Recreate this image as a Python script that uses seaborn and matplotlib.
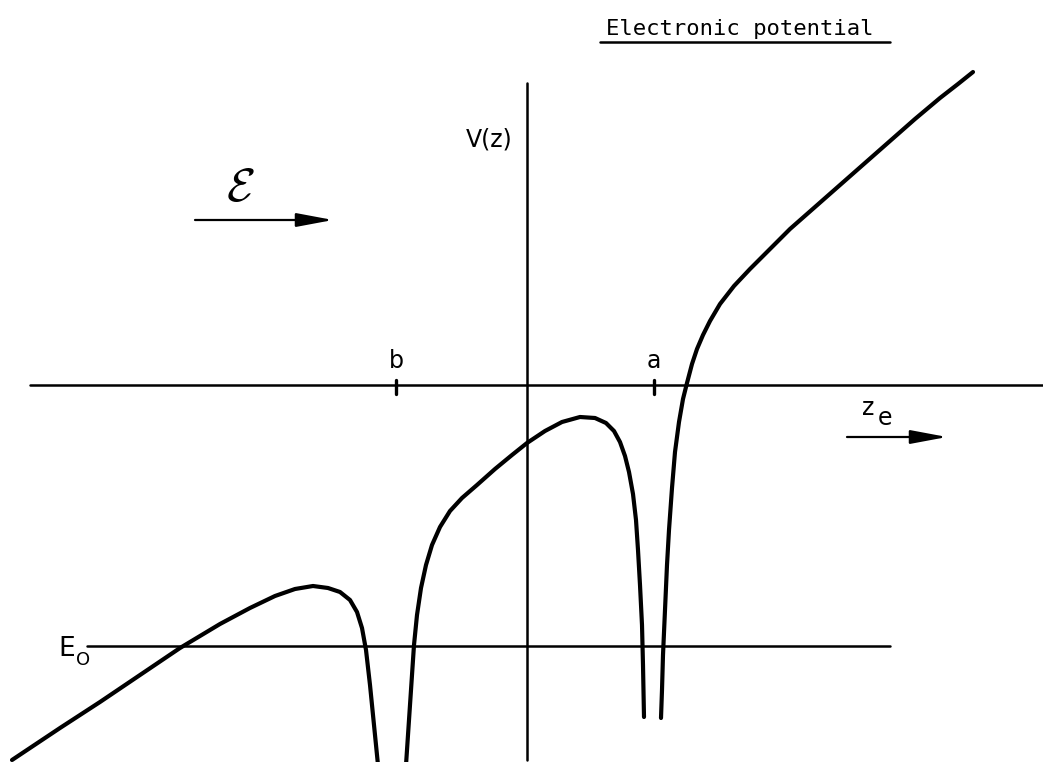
import pandas as pd
import matplotlib
import matplotlib.pyplot as plt
import seaborn as sns

matplotlib.use("Agg")

# ── Data (z along the field, V(z) potential) ───────────────────────────────
# left branch: field slope, barrier, then the well at b
seg_left_z = [-5.15, -4.67, -4.27, -3.87, -3.47, -3.07, -2.77, -2.52, -2.32,
              -2.14, -1.99, -1.87, -1.77, -1.70, -1.65, -1.61, -1.57, -1.54,
              -1.51, -1.49]
seg_left_v = [-3.75, -3.43, -3.17, -2.90, -2.63, -2.39, -2.23, -2.11, -2.04,
              -2.01, -2.03, -2.07, -2.15, -2.27, -2.43, -2.65, -3.00, -3.30,
              -3.60, -3.80]

# middle branch: out of the b well, over the barrier, into the a well
seg_mid_z = [-1.21, -1.19, -1.17, -1.15, -1.13, -1.10, -1.06, -1.01, -0.95,
             -0.87, -0.77, -0.65, -0.50, -0.32, -0.15, 0.00, 0.18, 0.35,
             0.53, 0.68, 0.79, 0.87, 0.93, 0.98, 1.02, 1.06, 1.09, 1.11,
             1.13, 1.15, 1.16, 1.17]
seg_mid_v = [-3.80, -3.50, -3.20, -2.90, -2.60, -2.30, -2.03, -1.80, -1.60,
             -1.42, -1.26, -1.13, -1.00, -0.84, -0.70, -0.58, -0.46, -0.37,
             -0.32, -0.33, -0.38, -0.46, -0.57, -0.71, -0.87, -1.09, -1.35,
             -1.65, -2.00, -2.40, -2.80, -3.32]

# right branch: out of the a well and up the applied-field slope
seg_right_z = [1.34, 1.35, 1.36, 1.38, 1.40, 1.42, 1.45, 1.48, 1.52, 1.56,
               1.60, 1.65, 1.70, 1.76, 1.83, 1.93, 2.07, 2.23, 2.43, 2.63,
               2.88, 3.13, 3.38, 3.63, 3.88, 4.13, 4.31, 4.46]
seg_right_v = [-3.33, -3.05, -2.70, -2.25, -1.80, -1.45, -1.03, -0.67, -0.37,
               -0.14, 0.02, 0.21, 0.36, 0.50, 0.64, 0.81, 0.99, 1.16, 1.36,
               1.56, 1.78, 2.00, 2.22, 2.44, 2.66, 2.87, 3.01, 3.13]

E0_LEVEL = -2.61
Z_B, Z_A = -1.31, 1.27

segments = {"left": (seg_left_z, seg_left_v),
            "mid": (seg_mid_z, seg_mid_v),
            "right": (seg_right_z, seg_right_v)}

rows = []
for name, (zs, vs) in segments.items():
    for z, v in zip(zs, vs):
        rows.append({"segment": name, "z": z, "V": v})
df = pd.DataFrame(rows)

# ── Figure ──────────────────────────────────────────────────────────────────
sns.set_theme(style="white")
plt.rcParams["font.family"] = ["DejaVu Sans"]
plt.rcParams["mathtext.fontset"] = "cm"

fig = plt.figure(figsize=(10.43, 7.62), dpi=100)
ax = fig.add_axes([0, 0, 1, 1])
ax.set_xlim(-5.27, 5.16)
ax.set_ylim(-3.77, 3.85)
ax.axis("off")

# axes of the sketch
ax.plot([-4.97, 5.16], [0, 0], color="black", lw=1.8)
ax.plot([0, 0], [-3.75, 3.02], color="black", lw=1.8)
ax.plot([-4.40, 3.63], [E0_LEVEL, E0_LEVEL], color="black", lw=1.8)

# tick marks at b and a
for zt in (Z_B, Z_A):
    ax.plot([zt, zt], [0.05, -0.09], color="black", lw=2.4)

sns.lineplot(data=df, x="z", y="V", units="segment", estimator=None,
             sort=False, color="black", lw=3.0, ax=ax, legend=False)
for line in ax.lines:
    line.set_solid_capstyle("round")
    line.set_solid_joinstyle("round")

txt = dict(color="black")
ax.text(Z_B, 0.12, "b", ha="center", va="bottom", fontsize=17, **txt)
ax.text(Z_A, 0.12, "a", ha="center", va="bottom", fontsize=17, **txt)
ax.text(-0.14, 2.45, "V(z)", ha="right", va="center", fontsize=17, **txt)
ax.text(-4.69, -2.64, "E", ha="left", va="center", fontsize=19, **txt)
ax.text(-4.51, -2.75, "O", ha="left", va="center", fontsize=13, **txt)
ax.text(3.35, -0.30, "z", ha="left", va="baseline", fontsize=17, **txt)
ax.text(3.51, -0.40, "e", ha="left", va="baseline", fontsize=17, **txt)

# title with underline (lettering-guide look: monospaced)
ax.text(3.46, 3.50, "Electronic potential", ha="right", va="baseline",
        fontsize=16, family="DejaVu Sans Mono", **txt)
ax.plot([0.73, 3.63], [3.43, 3.43], color="black", lw=1.8)

# field symbol and arrows
ax.text(-2.87, 1.97, r"$\mathcal{E}$", ha="center", va="center",
        fontsize=34, **txt)
arrow = dict(arrowstyle="-|>,head_length=1.6,head_width=0.3",
             color="black", lw=1.6, mutation_scale=14, shrinkA=0, shrinkB=0)
ax.annotate("", xy=(-1.94, 1.65), xytext=(-3.32, 1.65), arrowprops=arrow)
ax.annotate("", xy=(4.20, -0.52), xytext=(3.20, -0.52), arrowprops=arrow)

fig.savefig("out.png", dpi=100)
plt.close(fig)
